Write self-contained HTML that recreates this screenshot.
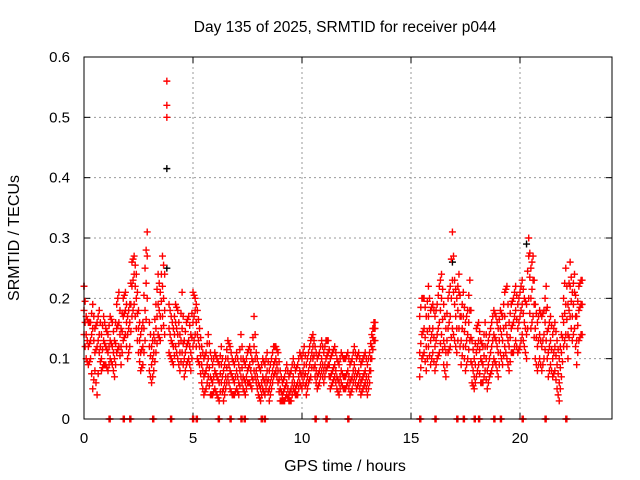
<!DOCTYPE html>
<html><head><meta charset="utf-8"><style>
html,body{margin:0;padding:0;background:#fff;}
svg{display:block;font-family:"Liberation Sans",sans-serif;}
</style></head><body>
<svg id="chart" width="640" height="480" viewBox="0 0 640 480" xmlns="http://www.w3.org/2000/svg">
<rect x="0" y="0" width="640" height="480" fill="#fff"/>
<text x="345" y="32" text-anchor="middle" font-size="15.5" fill="#000">Day 135 of 2025, SRMTID for receiver p044</text>
<text x="345" y="471" text-anchor="middle" font-size="16" fill="#000">GPS time / hours</text>
<text x="19" y="238" text-anchor="middle" font-size="16" fill="#000" transform="rotate(-90 19 238)">SRMTID / TECUs</text>
<g id="grid"></g>
<g id="axes"></g>
<g id="marks"></g>
<rect x="84" y="57" width="528" height="362" fill="none" stroke="#000" stroke-width="1"/>
</svg>
<script>
const xTicks=[0,5,10,15,20];
const yTicks=[0,0.1,0.2,0.3,0.4,0.5,0.6];
const yTickLabels=["0","0.1","0.2","0.3","0.4","0.5","0.6"];
const seg1Start=0.0;
const seg1Mid=[.18,.14,.12,.13,.15,.11,.12,.14,.10,.13,.12,.11,.13,.12,.10,.15,.16,.12,.17,.18,.14,.16,.22,.24,.20,.15,.11,.12,.18,.27,.12,.09,.11,.15,.19,.17,.22,.18,.52,.15,.13,.12,.16,.14,.11,.15,.10,.12,.13,.11,.16,.18,.14,.12,.09,.07,.08,.10,.07,.06,.08,.07,.06,.09,.05,.07,.10,.08,.07,.06,.08,.06,.10,.07,.06,.08,.09,.07,.12,.08,.06,.05,.07,.06,.08,.05,.07,.09,.10,.08,.05,.04,.05,.06,.04,.05,.07,.05,.06,.08,.07,.09,.06,.08,.10,.12,.09,.07,.08,.10,.08,.10,.11,.07,.08,.09,.07,.06,.08,.07,.07,.08,.06,.07,.09,.07,.08,.06,.07,.08,.06,.08,.12,.15];
const seg1Hi=[.22,.17,.16,.16,.19,.15,.16,.18,.14,.17,.15,.14,.17,.16,.13,.19,.21,.15,.20,.21,.17,.19,.26,.27,.24,.18,.14,.16,.25,.31,.16,.12,.14,.19,.24,.21,.27,.24,.56,.19,.17,.15,.19,.18,.14,.21,.13,.16,.17,.14,.21,.20,.18,.15,.12,.10,.11,.14,.11,.09,.11,.10,.09,.12,.08,.10,.13,.12,.10,.09,.11,.09,.14,.10,.09,.11,.12,.10,.17,.11,.09,.08,.10,.09,.11,.08,.10,.12,.12,.11,.08,.06,.07,.09,.07,.08,.10,.08,.09,.11,.10,.12,.09,.11,.13,.14,.12,.10,.11,.13,.11,.13,.13,.10,.11,.12,.10,.09,.11,.10,.10,.11,.09,.10,.12,.10,.11,.09,.10,.11,.09,.11,.14,.16];
const seg1Lo=[.14,.10,.09,.10,.05,.08,.04,.11,.08,.09,.09,.08,.10,.09,.07,.11,.12,.09,.13,.14,.10,.12,.17,.19,.15,.11,.08,.09,.13,.20,.08,.06,.08,.11,.14,.13,.17,.14,.50,.11,.10,.09,.12,.10,.08,.11,.07,.09,.10,.08,.12,.14,.10,.09,.06,.04,.05,.07,.04,.04,.05,.04,.03,.06,.03,.05,.07,.05,.04,.04,.05,.04,.07,.05,.04,.06,.06,.05,.08,.06,.04,.03,.05,.04,.06,.03,.05,.07,.08,.06,.03,.03,.03,.04,.03,.03,.05,.04,.04,.06,.05,.07,.04,.06,.07,.10,.07,.05,.06,.08,.06,.08,.09,.05,.06,.07,.05,.04,.06,.05,.05,.06,.04,.05,.07,.05,.06,.04,.05,.06,.04,.06,.10,.13];
const seg2Start=15.4;
const seg2Mid=[.11,.14,.15,.12,.17,.13,.15,.12,.14,.16,.20,.13,.11,.15,.17,.23,.19,.15,.21,.13,.17,.12,.14,.18,.09,.07,.11,.13,.10,.09,.12,.08,.10,.12,.14,.13,.11,.15,.13,.17,.14,.12,.15,.16,.18,.15,.17,.19,.16,.14,.27,.20,.23,.15,.12,.14,.12,.14,.18,.11,.13,.10,.12,.09,.06,.11,.16,.19,.14,.22,.17,.21,.13,.18,.19];
const seg2Hi=[.17,.20,.20,.17,.22,.18,.19,.17,.19,.22,.24,.19,.15,.20,.22,.31,.23,.20,.24,.17,.21,.16,.18,.23,.13,.10,.15,.16,.13,.12,.16,.12,.14,.16,.18,.17,.15,.18,.17,.21,.22,.16,.19,.20,.22,.19,.21,.23,.20,.19,.30,.25,.27,.19,.16,.18,.17,.18,.22,.15,.17,.14,.16,.13,.10,.14,.20,.25,.19,.26,.21,.24,.17,.22,.23];
const seg2Lo=[.07,.10,.11,.08,.12,.09,.11,.08,.10,.11,.14,.09,.07,.11,.12,.15,.13,.11,.15,.09,.12,.08,.10,.13,.06,.05,.07,.09,.06,.06,.08,.05,.07,.08,.10,.09,.07,.11,.09,.12,.10,.08,.11,.11,.13,.11,.12,.14,.12,.10,.20,.15,.17,.10,.08,.10,.08,.10,.13,.07,.09,.07,.08,.05,.03,.07,.12,.14,.10,.17,.13,.15,.09,.13,.14];
const zeroTimes=[1.15,1.8,2.1,3.15,3.97,4.98,5.15,6.16,6.7,7.2,7.35,8.13,8.27,10.6,11.1,12.1,15.4,16.1,17.1,17.4,17.9,18.1,18.8,19.1,20.1,21.15,22.1];
const blackTimes=[0.0,3.8,3.8,20.3,16.9];
const blackValues=[0.22,0.415,0.25,0.29,0.26];

const X0=84,X1=612,Y0=419,Y1=57,XMAX=(612-84)/21.8;
function sx(v){return X0+v/XMAX*(X1-X0);}
function sy(v){return Y0-v/0.6*(Y0-Y1);}
const NS="http://www.w3.org/2000/svg";
const grid=document.getElementById('grid'),axes=document.getElementById('axes'),marks=document.getElementById('marks');
function mk(tag,attrs,parent){const e=document.createElementNS(NS,tag);for(const k in attrs)e.setAttribute(k,attrs[k]);parent.appendChild(e);return e;}
xTicks.forEach(t=>{
  const x=sx(t);
  if(t>0){const g=mk('line',{x1:x,x2:x,y1:Y1,y2:Y0,stroke:'#999','stroke-dasharray':'2,3','stroke-width':1},grid);
  
  }
  const a=mk('line',{x1:x,x2:x,y1:Y0,y2:Y0-6,stroke:'#000'},axes);
  
  
  const b=mk('line',{x1:x,x2:x,y1:Y1,y2:Y1+6,stroke:'#000'},axes);
  
  
  const l=mk('text',{x:x,y:443,'text-anchor':'middle','font-size':15},axes);l.textContent=String(t);
  
  
});
yTicks.forEach((t,i)=>{
  const y=sy(t);
  if(t>0&&t<0.6){const g=mk('line',{x1:X0,x2:X1,y1:y,y2:y,stroke:'#999','stroke-dasharray':'2,3','stroke-width':1},grid);
  
  }
  const a=mk('line',{x1:X0,x2:X0+6,y1:y,y2:y,stroke:'#000'},axes);
  
  
  const b=mk('line',{x1:X1,x2:X1-6,y1:y,y2:y,stroke:'#000'},axes);
  
  
  const l=mk('text',{x:70,y:y+5,'text-anchor':'end','font-size':15},axes);l.textContent=yTickLabels[i];
  
  
});
function plus(t,v,color,name){
  const x=sx(t),y=sy(v);
  const p=mk('path',{d:`M${x-3.5} ${y}H${x+3.5}M${x} ${y-3.5}V${y+3.5}`,stroke:color,'stroke-width':1.4,fill:'none'},marks);
  
  
}
blackTimes.forEach((t,i)=>plus(t,blackValues[i],'#000','black-point'));
function drawSeg(start,arr){arr.forEach((v,i)=>{const t=start+i*0.1;plus(t,v,'#f00','data-point');const n=arr[Math.min(i+1,arr.length-1)];if(Math.abs(n-v)<0.12)plus(t+0.05,(v+n)/2,'#f00','data-point');});}
[[seg1Start,seg1Mid],[seg1Start,seg1Hi],[seg1Start,seg1Lo],[seg2Start,seg2Mid],[seg2Start,seg2Hi],[seg2Start,seg2Lo]].forEach(s=>drawSeg(s[0],s[1]));
zeroTimes.forEach(t=>{plus(t,0,'#f00','zero-point');plus(t+0.05,0,'#f00','zero-point');});
</script>
</body></html>
